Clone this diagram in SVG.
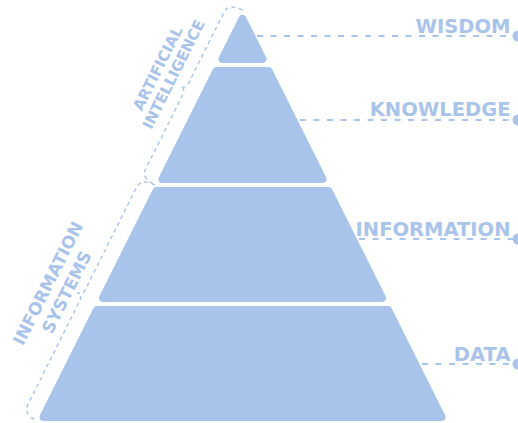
<svg xmlns="http://www.w3.org/2000/svg" width="518" height="423" viewBox="0 0 518 423">
  <style>
    .tier { fill: #A9C4EB; stroke: #A9C4EB; stroke-width: 8; stroke-linejoin: round; }
    .lbl { font-family: "DejaVu Sans", Verdana, sans-serif; font-weight: bold; fill: #A9C4EB; }
    .right { font-size: 19.5px; text-anchor: end; }
    .side { text-anchor: middle; }
    .conn { stroke: #A9C4EB; stroke-width: 2; stroke-dasharray: 6 7.5; fill: none; }
    .dot { fill: #A9C4EB; }
    .brace { stroke: #A9C4EB; stroke-width: 1.4; stroke-dasharray: 4 3.5; fill: none; }
  </style>
  <rect width="518" height="423" fill="#ffffff"/>

  <g id="wisdom">
    <polygon class="tier" points="242.5,18.94 262.53,59 222.47,59"/>
    <text class="lbl right" x="510.5" y="33">WISDOM</text>
  </g>
  <g id="knowledge">
    <polygon class="tier" points="216.47,71 268.53,71 322.53,179 162.47,179"/>
    <text class="lbl right" x="510.5" y="116">KNOWLEDGE</text>
  </g>
  <g id="information">
    <polygon class="tier" points="156.47,191 328.53,191 382.03,298 102.97,298"/>
    <text class="lbl right" x="510.5" y="236">INFORMATION</text>
  </g>
  <g id="data">
    <polygon class="tier" points="96.97,310 388.03,310 441.53,417 43.47,417"/>
    <text class="lbl right" x="510.5" y="361">DATA</text>
  </g>

  <g id="artificial-intelligence">
    <path class="brace" transform="translate(242.5,10) rotate(116.565)" d="M0,0 Q0,15.5 10,15.5 L89.8,15.5 Q96,15.5 96,21.5 Q96,15.5 102.2,15.5 L185.66,15.5 Q195.66,15.5 195.66,0"/>
    <text class="lbl side" font-size="15" transform="translate(162.4,70.75) rotate(-63.435)">ARTIFICIAL</text>
    <text class="lbl side" font-size="15" transform="translate(178.2,76.65) rotate(-63.435)">INTELLIGENCE</text>
  </g>
  <g id="information-systems">
    <path class="brace" transform="translate(242.5,10) rotate(116.565)" d="M195.66,0 Q195.66,15.5 205.66,15.5 L320.6,15.5 Q326.8,15.5 326.8,21.5 Q326.8,15.5 333,15.5 L449.5,15.5 Q459.5,15.5 459.5,0"/>
    <text class="lbl side" font-size="17" transform="translate(53.3,286) rotate(-63.435)">INFORMATION</text>
    <text class="lbl side" font-size="17" transform="translate(72,294.8) rotate(-63.435)">SYSTEMS</text>
  </g>

  <g id="connectors">
    <line class="conn" x1="257" y1="36" x2="513" y2="36"/>
    <circle class="dot" cx="518" cy="36" r="5.5"/>
    <line class="conn" x1="300" y1="120" x2="513" y2="120"/>
    <circle class="dot" cx="518" cy="120" r="5.5"/>
    <line class="conn" x1="359" y1="239" x2="513" y2="239"/>
    <circle class="dot" cx="518" cy="239" r="5.5"/>
    <line class="conn" x1="422" y1="364" x2="513" y2="364"/>
    <circle class="dot" cx="518" cy="364" r="5.5"/>
  </g>
</svg>
